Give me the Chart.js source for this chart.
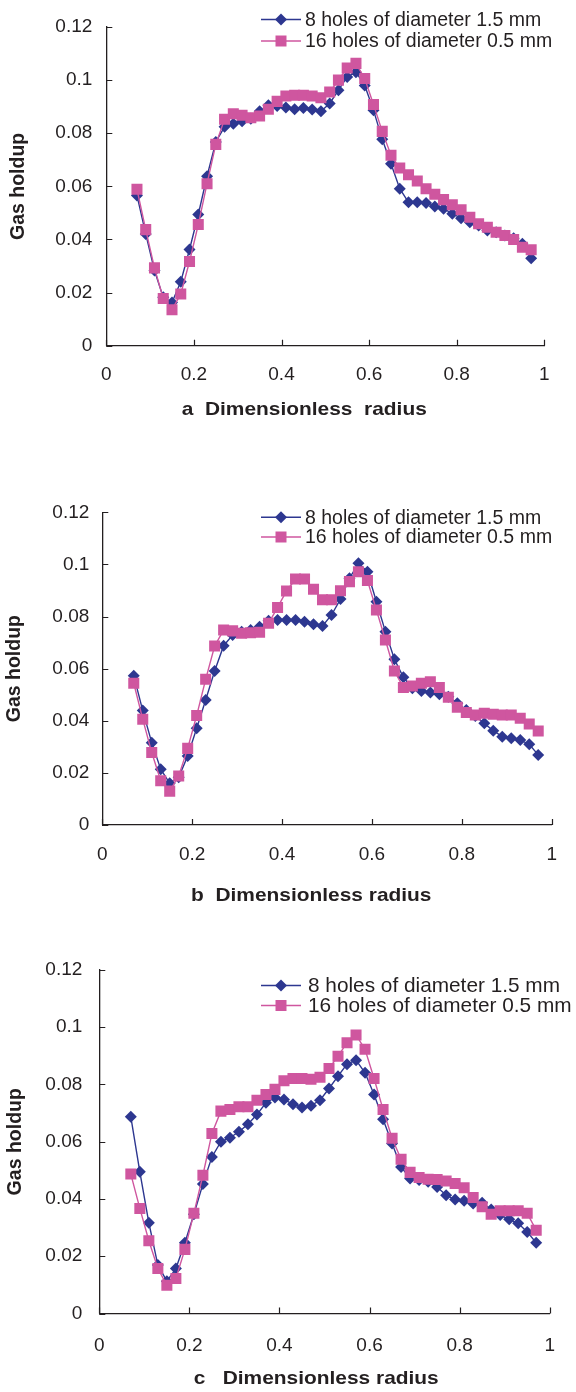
<!DOCTYPE html>
<html>
<head>
<meta charset="utf-8">
<script src="https://cdn.jsdelivr.net/npm/chart.js@4/dist/chart.umd.min.js"></script>
<style>
  html, body { margin: 0; padding: 0; background: #ffffff; }
  body { width: 576px; height: 1392px; position: relative; overflow: hidden; }
  canvas { position: absolute; left: 0; }
</style>
</head>
<body>
<canvas id="ca" width="576" height="464" style="top:0px"></canvas>
<canvas id="cb" width="576" height="464" style="top:464px"></canvas>
<canvas id="cc" width="576" height="464" style="top:928px"></canvas>
<script>
// ---------- data ----------
const radius = [0.07, 0.09, 0.11, 0.13, 0.15, 0.17, 0.19, 0.21, 0.23, 0.25,
  0.27, 0.29, 0.31, 0.33, 0.35, 0.37, 0.39, 0.41, 0.43, 0.45,
  0.47, 0.49, 0.51, 0.53, 0.55, 0.57, 0.59, 0.61, 0.63, 0.65,
  0.67, 0.69, 0.71, 0.73, 0.75, 0.77, 0.79, 0.81, 0.83, 0.85,
  0.87, 0.89, 0.91, 0.93, 0.95, 0.97];

const seriesNames = ['8 holes of diameter 1.5 mm', '16 holes of diameter 0.5 mm'];

const holdupA8 = [0.0566, 0.0421, 0.0283, 0.0182, 0.0163, 0.0241, 0.0362, 0.0494, 0.0638, 0.0767,
  0.0824, 0.0836, 0.0845, 0.0855, 0.0883, 0.0905, 0.0903, 0.0897, 0.0890, 0.0895,
  0.0889, 0.0883, 0.0912, 0.0962, 0.1012, 0.1030, 0.0980, 0.0887, 0.0777, 0.0685,
  0.0591, 0.0540, 0.0540, 0.0537, 0.0524, 0.0516, 0.0497, 0.0480, 0.0465, 0.0453,
  0.0434, 0.0427, 0.0415, 0.0405, 0.0384, 0.0329];
const holdupA16 = [0.0589, 0.0437, 0.0293, 0.0178, 0.0135, 0.0195, 0.0317, 0.0456, 0.0610, 0.0758,
  0.0853, 0.0873, 0.0868, 0.0858, 0.0865, 0.0890, 0.0920, 0.0940, 0.0943, 0.0943,
  0.0940, 0.0934, 0.0955, 0.1000, 0.1046, 0.1063, 0.1006, 0.0908, 0.0807, 0.0717,
  0.0669, 0.0644, 0.0620, 0.0591, 0.0570, 0.0550, 0.0531, 0.0512, 0.0484, 0.0459,
  0.0446, 0.0427, 0.0415, 0.0400, 0.0371, 0.0361];

const holdupB8 = [0.0573, 0.0439, 0.0316, 0.0214, 0.0160, 0.0183, 0.0265, 0.0371, 0.0480, 0.0591,
  0.0688, 0.0729, 0.0742, 0.0748, 0.0761, 0.0784, 0.0787, 0.0787, 0.0787, 0.0780,
  0.0770, 0.0764, 0.0806, 0.0867, 0.0947, 0.1004, 0.0972, 0.0857, 0.0742, 0.0636,
  0.0567, 0.0525, 0.0514, 0.0508, 0.0502, 0.0492, 0.0467, 0.0441, 0.0418, 0.0390,
  0.0362, 0.0339, 0.0333, 0.0326, 0.0310, 0.0269];
const holdupB16 = [0.0544, 0.0406, 0.0278, 0.0170, 0.0130, 0.0188, 0.0294, 0.0420, 0.0559, 0.0687,
  0.0748, 0.0745, 0.0736, 0.0738, 0.0740, 0.0774, 0.0835, 0.0898, 0.0944, 0.0944,
  0.0905, 0.0864, 0.0864, 0.0899, 0.0934, 0.0972, 0.0938, 0.0825, 0.0710, 0.0591,
  0.0528, 0.0533, 0.0544, 0.0550, 0.0528, 0.0490, 0.0452, 0.0432, 0.0422, 0.0429,
  0.0425, 0.0422, 0.0422, 0.0410, 0.0388, 0.0361];

const holdupC8 = [0.0687, 0.0495, 0.0317, 0.0169, 0.0113, 0.0157, 0.0247, 0.0347, 0.0452, 0.0547,
  0.0600, 0.0614, 0.0635, 0.0661, 0.0695, 0.0736, 0.0755, 0.0748, 0.0731, 0.0720,
  0.0726, 0.0745, 0.0786, 0.0829, 0.0871, 0.0885, 0.0841, 0.0765, 0.0679, 0.0594,
  0.0512, 0.0472, 0.0466, 0.0460, 0.0442, 0.0413, 0.0398, 0.0394, 0.0384, 0.0387,
  0.0363, 0.0344, 0.0329, 0.0315, 0.0285, 0.0247];
const holdupC16 = [0.0487, 0.0367, 0.0254, 0.0157, 0.0099, 0.0122, 0.0224, 0.0350, 0.0483, 0.0629,
  0.0707, 0.0713, 0.0722, 0.0722, 0.0745, 0.0765, 0.0783, 0.0813, 0.0821, 0.0821,
  0.0818, 0.0825, 0.0856, 0.0899, 0.0946, 0.0973, 0.0923, 0.0821, 0.0713, 0.0612,
  0.0539, 0.0493, 0.0475, 0.0469, 0.0468, 0.0463, 0.0454, 0.0439, 0.0405, 0.0373,
  0.0347, 0.0359, 0.0359, 0.0359, 0.0350, 0.0291];

const xTickValues = [0, 0.2, 0.4, 0.6, 0.8, 1];
const xTickLabels = ['0', '0.2', '0.4', '0.6', '0.8', '1'];
const yTickValues = [0, 0.02, 0.04, 0.06, 0.08, 0.1, 0.12];
const yTickLabels = ['0', '0.02', '0.04', '0.06', '0.08', '0.1', '0.12'];

const xTitles = ['a  Dimensionless  radius', 'b  Dimensionless radius', 'c   Dimensionless radius'];
const yTitle = 'Gas holdup';

// ---------- styling / layout ----------
const INK = '#231F20';
const BLUE = '#2D3790';
const PINK = '#CF569F';
const FONT = '"Liberation Sans", Arial, Helvetica, sans-serif';

const panels = [
  { id: 'ca', s8: holdupA8, s16: holdupA16, title: xTitles[0],
    padTop: 27, padRight: 31.7, yW: 106.3, xH: 118.3, yPad: 14, xPad: 18,
    titleX: 0.452, titleY: 410, yTitleX: 18.3, legY: [19.5, 41], legText: 305, legFont: 19.5 },
  { id: 'cb', s8: holdupB8, s16: holdupB16, title: xTitles[1],
    padTop: 48.3, padRight: 24.3, yW: 102.3, xH: 103, yPad: 13, xPad: 18,
    titleX: 0.465, titleY: 431.5, yTitleX: 14.5, legY: [53.3, 73], legText: 305, legFont: 19.5 },
  { id: 'cc', s8: holdupC8, s16: holdupC16, title: xTitles[2],
    padTop: 42, padRight: 20, yW: 99.3, xH: 78.5, yPad: 17, xPad: 21,
    titleX: 0.4815, titleY: 451, yTitleX: 15.5, legY: [57.5, 77.5], legText: 308, legFont: 20.8 }
];

function toPoints(xs, ys) { return xs.map((x, i) => ({ x: x, y: ys[i] })); }

function drawMarker(ctx, style, x, y, color) {
  ctx.save();
  ctx.fillStyle = color;
  ctx.beginPath();
  if (style === 'rectRot') {
    const r = 6;
    ctx.moveTo(x, y - r); ctx.lineTo(x + r, y); ctx.lineTo(x, y + r); ctx.lineTo(x - r, y);
    ctx.closePath();
  } else {
    const h = 5.5;
    ctx.rect(x - h, y - h, 2 * h, 2 * h);
  }
  ctx.fill();
  ctx.restore();
}

const decorPlugin = {
  id: 'decor',
  afterDraw(chart, args, opts) {
    const p = opts.panel;
    const ctx = chart.ctx;
    const xs = chart.scales.x, ys = chart.scales.y;
    const area = chart.chartArea;
    ctx.save();
    // inward tick marks
    ctx.strokeStyle = INK;
    ctx.lineWidth = 1.2;
    ctx.beginPath();
    xTickValues.forEach(v => {
      const px = Math.round(xs.getPixelForValue(v)) + 0.5;
      ctx.moveTo(px, area.bottom); ctx.lineTo(px, area.bottom - 6);
    });
    yTickValues.forEach(v => {
      const py = Math.round(ys.getPixelForValue(v)) + 0.5;
      ctx.moveTo(area.left, py); ctx.lineTo(area.left + 6, py);
    });
    ctx.stroke();

    // x title (slightly widened like the reference lettering)
    ctx.fillStyle = INK;
    ctx.font = 'bold 19px ' + FONT;
    ctx.textAlign = 'center';
    ctx.textBaseline = 'middle';
    ctx.save();
    ctx.translate(xs.getPixelForValue(p.titleX), p.titleY);
    ctx.scale(1.1, 1);
    ctx.fillText(p.title, 0, 0);
    ctx.restore();

    // y title
    ctx.save();
    ctx.translate(p.yTitleX, (area.top + area.bottom) / 2);
    ctx.rotate(-Math.PI / 2);
    ctx.font = 'bold 19.5px ' + FONT;
    ctx.fillText(yTitle, 0, 0);
    ctx.restore();

    // legend
    ctx.font = p.legFont + 'px ' + FONT;
    ctx.textAlign = 'left';
    chart.data.datasets.forEach((ds, i) => {
      const y = p.legY[i];
      ctx.strokeStyle = ds.borderColor;
      ctx.lineWidth = 1.4;
      ctx.beginPath();
      ctx.moveTo(261, y); ctx.lineTo(301, y);
      ctx.stroke();
      drawMarker(ctx, ds.pointStyle, 281, y, ds.borderColor);
      ctx.fillStyle = INK;
      ctx.fillText(ds.label, p.legText, y + 1);
    });
    ctx.restore();
  }
};

panels.forEach(p => {
  new Chart(document.getElementById(p.id), {
    type: 'line',
    data: {
      datasets: [
        { label: seriesNames[0], data: toPoints(radius, p.s8), borderColor: BLUE, backgroundColor: BLUE,
          borderWidth: 1.4, pointStyle: 'rectRot', pointRadius: 6, pointBorderWidth: 0,
          pointBackgroundColor: BLUE, tension: 0, order: 1 },
        { label: seriesNames[1], data: toPoints(radius, p.s16), borderColor: PINK, backgroundColor: PINK,
          borderWidth: 1.4, pointStyle: 'rect', pointRadius: 7.8, pointBorderWidth: 0,
          pointBackgroundColor: PINK, tension: 0, order: 0 }
      ]
    },
    options: {
      responsive: false,
      animation: false,
      devicePixelRatio: 1,
      layout: { autoPadding: false, padding: { top: p.padTop, right: p.padRight, left: 0, bottom: 0 } },
      plugins: { legend: { display: false }, tooltip: { enabled: false }, decor: { panel: p } },
      scales: {
        x: {
          type: 'linear', min: 0, max: 1,
          afterBuildTicks: s => { s.ticks = xTickValues.map(v => ({ value: v })); },
          afterFit: s => { s.height = p.xH; },
          ticks: { color: INK, font: { family: FONT, size: 19 }, padding: p.xPad,
                   maxRotation: 0, autoSkip: false,
                   callback: (v, i) => xTickLabels[i] },
          grid: { display: true, drawOnChartArea: false, drawTicks: false },
          border: { display: true, color: INK, width: 1.3 }
        },
        y: {
          type: 'linear', min: 0, max: 0.12,
          afterBuildTicks: s => { s.ticks = yTickValues.map(v => ({ value: v })); },
          afterFit: s => { s.width = p.yW; },
          ticks: { color: INK, font: { family: FONT, size: 19 }, padding: p.yPad,
                   autoSkip: false, callback: (v, i) => yTickLabels[i] },
          grid: { display: true, drawOnChartArea: false, drawTicks: false },
          border: { display: true, color: INK, width: 1.3 }
        }
      }
    },
    plugins: [decorPlugin]
  });
});
</script>
</body>
</html>
